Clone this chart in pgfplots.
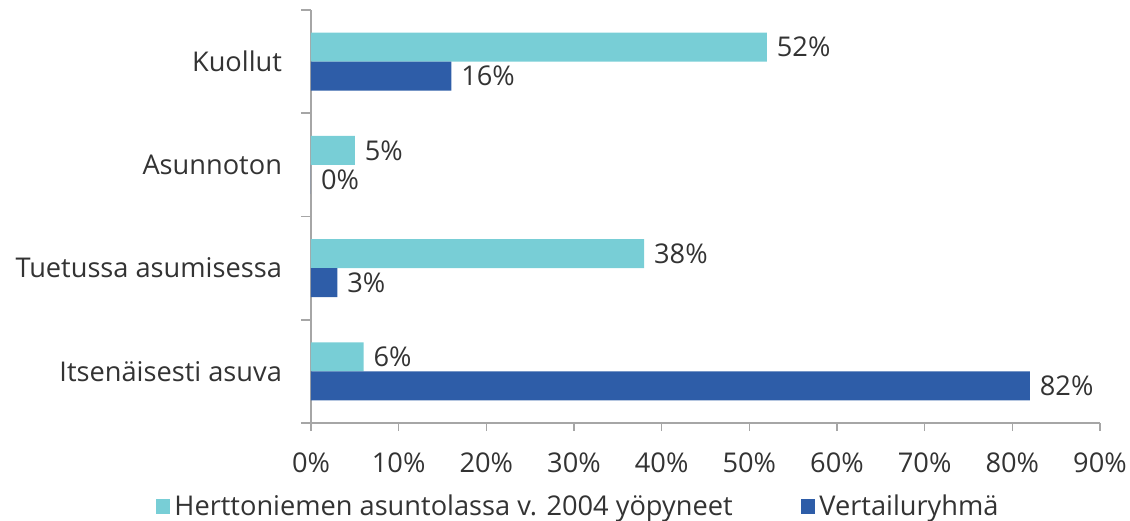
\documentclass[border=0pt]{standalone}
\usepackage{pgfplots}
\pgfplotsset{compat=1.18}
\usepackage{fontspec}
\setmainfont{Open Sans}
\definecolor{teal1}{HTML}{78CED6}
\definecolor{blue1}{HTML}{2E5DA8}
\definecolor{txt}{HTML}{333333}
\definecolor{axgrey}{HTML}{A6A6A6}
\newcommand{\cf}{\fontsize{13.6}{16}\selectfont}
\begin{document}
\begin{tikzpicture}
\begin{axis}[
  at={(0,0)}, anchor=south west,
  scale only axis,
  width=394.5pt, height=206.5pt,
  xbar, bar width=14.5pt,
  xmin=0, xmax=90, ymin=-0.5, ymax=3.5,
  axis lines*=left,
  axis line style={axgrey, line width=0.8pt},
  tick align=outside,
  xtick={0,10,...,90},
  xticklabel={\pgfmathprintnumber{\tick}\%},
  xticklabel style={yshift=-7.5pt},
  ytick={0,1,2,3},
  yticklabels={Itsenäisesti asuva, Tuetussa asumisessa, Asunnoton, Kuollut},
  yticklabel style={xshift=-7pt},
  minor ytick={-0.5,0.5,1.5,2.5,3.5},
  major tick length=4pt, minor tick length=5pt,
  major y tick style={draw=none},
  minor y tick style={axgrey, line width=0.8pt},
  major x tick style={axgrey, line width=0.8pt},
  /pgf/number format/assume math mode=true,
  tick label style={font=\cf, text=txt},
  nodes near coords={\pgfmathprintnumber{\pgfplotspointmeta}\%},
  nodes near coords style={font=\cf, text=txt, xshift=1.5pt},
  legend columns=2,
  legend style={draw=none, at={(-0.205,-0.203)}, anchor=west, font=\cf, text=txt,
    /tikz/every even column/.append style={column sep=32pt}},
  legend image code/.code={\fill[#1] (0pt,-3.7pt) rectangle (7.4pt,3.7pt);},
]
\addplot[fill=teal1, draw=none, bar shift=7.25pt] coordinates {(6,0) (38,1) (5,2) (52,3)};
\addplot[fill=blue1, draw=none, bar shift=-7.25pt] coordinates {(82,0) (3,1) (0,2) (16,3)};
\legend{Herttoniemen asuntolassa v. 2004 yöpyneet, Vertailuryhmä}
\end{axis}
\pgfresetboundingbox
\path[use as bounding box] (-155.5pt,-48.5pt) rectangle (409.5pt,211.5pt);
\end{tikzpicture}
\end{document}
